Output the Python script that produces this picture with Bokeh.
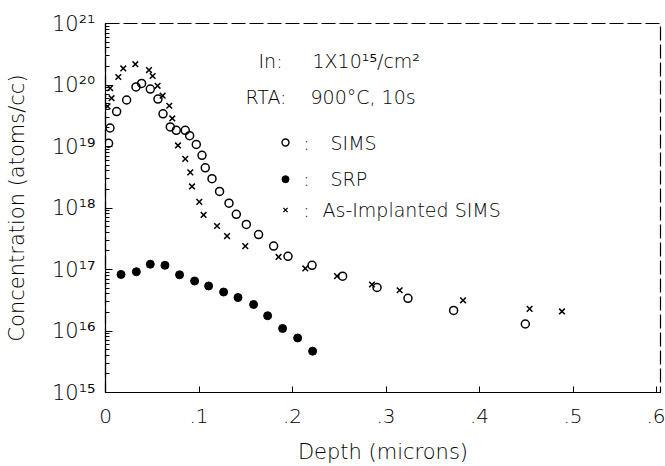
import math
from bokeh.plotting import figure
from bokeh.models import Range1d, FixedTicker, CustomJSTickFormatter, Label
from bokeh.embed import file_html
from bokeh.resources import INLINE

# ---------------- data ----------------
sims_depth = [0.0033, 0.0048, 0.0119, 0.0226, 0.0326, 0.0386, 0.0479, 0.0561, 0.0615, 0.0693,
              0.0757, 0.0853, 0.0900, 0.0971, 0.1032, 0.1067, 0.1139, 0.1220, 0.1321, 0.1399,
              0.1506, 0.1637, 0.1798, 0.1952, 0.2209, 0.2536, 0.2904, 0.3235, 0.3723, 0.4490]
sims_conc = [1.13e19, 2.0e19, 3.7e19, 5.7e19, 9.3e19, 1.06e20, 8.6e19, 5.9e19, 3.4e19, 2.08e19,
             1.83e19, 1.83e19, 1.50e19, 1.08e19, 7.2e18, 4.5e18, 3.0e18, 1.86e18, 1.2e18, 7.9e17,
             5.4e17, 3.7e17, 2.4e17, 1.64e17, 1.17e17, 7.8e16, 5.1e16, 3.4e16, 2.16e16, 1.3e16]

srp_depth = [0.0166, 0.0330, 0.0479, 0.0636, 0.0792, 0.0953, 0.1103, 0.1263, 0.1417, 0.1584,
             0.1734, 0.1894, 0.2055, 0.2215]
srp_conc = [8.3e16, 9.2e16, 1.22e17, 1.17e17, 8.2e16, 6.5e16, 5.4e16, 4.3e16, 3.5e16, 2.7e16,
            1.77e16, 1.10e16, 7.7e15, 4.7e15]

asimp_depth = [0.0022, 0.0050, 0.0065, 0.0137, 0.0190, 0.0319, 0.0465, 0.0504, 0.0557, 0.0611,
               0.0682, 0.0714, 0.0775, 0.0853, 0.0907, 0.0925, 0.1003, 0.1049, 0.1193, 0.1300,
               0.1495, 0.1851, 0.2137, 0.2476, 0.2850, 0.3146, 0.3824, 0.4536, 0.4882]
asimp_conc = [4.5e19, 8.9e19, 6.1e19, 1.35e20, 1.86e20, 2.18e20, 1.75e20, 1.40e20, 9.7e19, 6.7e19,
              4.6e19, 2.86e19, 1.04e19, 6.3e18, 3.8e18, 2.24e18, 1.26e18, 7.7e17, 5.1e17, 3.5e17,
              2.4e17, 1.6e17, 1.04e17, 7.8e16, 5.7e16, 4.6e16, 3.16e16, 2.29e16, 2.08e16]

x_ticks = [0.0, 0.1, 0.2, 0.3, 0.4, 0.5]
x_last_label = ".6"
y_exponents = [15, 16, 17, 18, 19, 20, 21]

x_title = "Depth (microns)"
y_title = "Concentration (atoms/cc)"
note_implant = ["In:", "1X10\u00b9\u2075/cm\u00b2"]
note_rta = ["RTA:", "900\u00b0C, 10s"]
legend_names = ["SIMS", "SRP", "As-Implanted SIMS"]

# ---------------- layout ----------------
W, H = 665, 466
FL, FR, FT, FB = 105, 660, 23, 395
X0, X1 = 0.0, (FR - FL) / 935.0
Y0, Y1 = 1e15, 1e21
FONT = "DejaVu Sans Light, DejaVu Sans"
INK = "#000000"


def dx(px):
    return X0 + (px - FL) / (FR - FL) * (X1 - X0)


def dy(py):
    l0, l1 = math.log10(Y0), math.log10(Y1)
    return 10 ** (l0 + (FB - py) / (FB - FT) * (l1 - l0))


p = figure(width=W, height=H, x_range=Range1d(X0, X1), y_range=Range1d(Y0, Y1),
           y_axis_type="log", output_backend="svg", toolbar_location=None,
           min_border_left=FL, min_border_right=W - FR, min_border_top=FT,
           min_border_bottom=H - FB)
p.background_fill_color = "white"
p.border_fill_color = "white"
p.grid.visible = False
p.outline_line_color = INK
p.outline_line_width = 1.2
p.outline_line_dash = "14 4"

# x axis: the ".6" label of the original sits on the right edge of the frame
xa = p.xaxis[0]
xa.ticker = FixedTicker(ticks=x_ticks + [dx(656)])
xa.formatter = CustomJSTickFormatter(args=dict(last=x_last_label), code="""
if (tick > 0.55) return last;
return tick == 0 ? "0" : tick.toFixed(1).replace(/^0/, "");
""")
xa.major_tick_in = 6
xa.major_tick_out = 0
xa.minor_tick_in = 0
xa.minor_tick_out = 0
xa.axis_line_color = INK
xa.axis_line_width = 1.2
xa.major_tick_line_color = INK
xa.major_label_text_font = FONT
xa.major_label_text_font_size = "20px"
xa.major_label_text_color = INK
xa.major_label_standoff = 16
xa.axis_label = x_title
xa.axis_label_text_font = FONT
xa.axis_label_text_font_size = "21px"
xa.axis_label_text_font_style = "normal"
xa.axis_label_text_color = INK
xa.axis_label_standoff = 14

# y axis
ya = p.yaxis[0]
majors = [10.0 ** e for e in y_exponents]
minors = [m * 10.0 ** e for e in y_exponents[:-1] for m in range(2, 10)]
ya.ticker = FixedTicker(ticks=majors, minor_ticks=minors)
ya.formatter = CustomJSTickFormatter(code="""
const sup = ["\u2070","\u00b9","\u00b2","\u00b3","\u2074","\u2075","\u2076","\u2077","\u2078","\u2079"];
const e = Math.round(Math.log10(tick));
return "10" + String(e).split("").map(d => sup[parseInt(d)]).join("");
""")
ya.major_tick_in = 7
ya.major_tick_out = 0
ya.minor_tick_in = 4
ya.minor_tick_out = 0
ya.axis_line_color = INK
ya.axis_line_width = 1.2
ya.major_tick_line_color = INK
ya.minor_tick_line_color = INK
ya.major_label_text_font = FONT
ya.major_label_text_font_size = "21px"
ya.major_label_text_color = INK
ya.major_label_standoff = 10
ya.axis_label = y_title
ya.axis_label_text_font = FONT
ya.axis_label_text_font_size = "21px"
ya.axis_label_text_font_style = "normal"
ya.axis_label_text_color = INK
ya.axis_label_standoff = 20

# data marks
p.scatter(sims_depth, sims_conc, marker="circle", size=8, fill_color=None,
          line_color=INK, line_width=1.5)
p.scatter(srp_depth, srp_conc, marker="circle", size=8, fill_color=INK,
          line_color=INK, line_width=1)
p.scatter(asimp_depth, asimp_conc, marker="x", size=8, line_color=INK, line_width=1.5)


# annotations
def note(px, py, txt, size="19px", align="left"):
    p.add_layout(Label(x=dx(px), y=dy(py), text=txt, text_align=align,
                       text_baseline="middle", text_font=FONT, text_font_size=size,
                       text_color=INK))


note(258, 61, note_implant[0])
note(312, 61, note_implant[1])
note(245, 97, note_rta[0])
note(310, 97, note_rta[1])

leg_rows = [143, 180, 211]
leg_x = [330, 330, 322]
p.scatter([dx(285)], [dy(leg_rows[0])], marker="circle", size=7, fill_color=None,
          line_color=INK, line_width=1.4)
p.scatter([dx(285)], [dy(leg_rows[1])], marker="circle", size=7, fill_color=INK,
          line_color=INK)
p.scatter([dx(285)], [dy(leg_rows[2])], marker="x", size=6, line_color=INK, line_width=1.3)
for row, lx, name in zip(leg_rows, leg_x, legend_names):
    note(306, row, ":", align="center")
    note(lx, row, name)

with open("out.html", "w", encoding="utf-8") as f:
    f.write(file_html(p, INLINE))
